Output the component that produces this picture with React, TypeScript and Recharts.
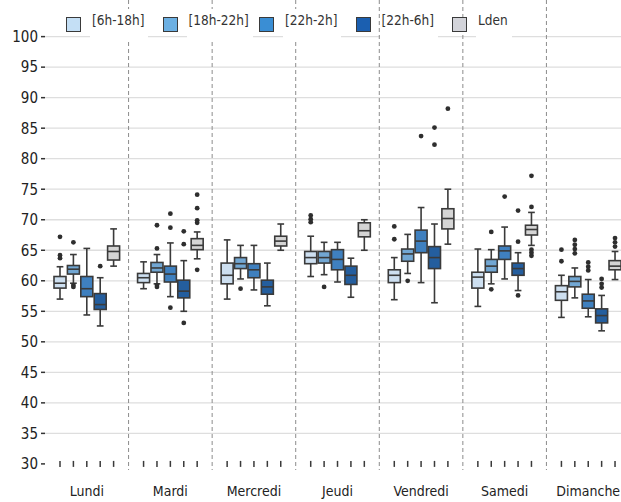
import React from 'react';
import { ComposedChart, Bar, XAxis, YAxis, CartesianGrid, Legend } from 'recharts';

const FONT = "'DejaVu Sans Condensed', 'DejaVu Sans', sans-serif";

const days = ['Lundi', 'Mardi', 'Mercredi', 'Jeudi', 'Vendredi', 'Samedi', 'Dimanche'];
const periods = ['[6h-18h]', '[18h-22h]', '[22h-2h]', '[22h-6h]', 'Lden'];
const yTicks = [30, 35, 40, 45, 50, 55, 60, 65, 70, 75, 80, 85, 90, 95, 100];

// [moustache basse, Q1, médiane, Q3, moustache haute] pour chaque jour
const stats6h18h = [
  [57, 58.8, 59.6, 60.7, 62.3],
  [58.7, 59.7, 60.5, 61.2, 63.1],
  [57, 59.5, 60.9, 62.9, 66.7],
  [60.7, 62.8, 63.8, 64.8, 67.3],
  [56.9, 59.7, 60.9, 61.8, 63.8],
  [55.8, 58.8, 60.6, 61.4, 65.2],
  [54, 56.8, 58.2, 59.2, 60.9],
];
const out6h18h = [[63.7, 64.2, 67.2], [], [], [69.6, 70.1, 70.7], [66.8, 68.9], [], [63.2, 65.1]];

const stats18h22h = [
  [59.6, 61.1, 61.9, 62.5, 64.3],
  [59.5, 61.4, 62.1, 63, 64.3],
  [60.3, 62, 62.8, 63.8, 65.8],
  [61, 62.9, 63.8, 64.8, 66.3],
  [61.2, 63.2, 64.4, 65.2, 67.6],
  [59.5, 61.4, 62.4, 63.5, 65.1],
  [57.2, 59, 59.9, 60.7, 62.1],
];
const out18h22h = [[59, 59.3, 66.3], [59, 59.3, 65.3, 69.1], [58.7], [59], [60], [58.6, 68], [64.5, 65.2, 65.9, 66.7]];

const stats22h2h = [
  [54.4, 57.4, 58.7, 60.7, 65.3],
  [57.4, 59.8, 61.1, 62.4, 66.2],
  [58.5, 60.5, 61.8, 62.8, 65.8],
  [59.8, 61.8, 63.5, 65.1, 66.3],
  [59.7, 64.6, 66.5, 68.3, 72],
  [60.3, 63.5, 64.9, 65.7, 68.8],
  [54.1, 55.5, 56.7, 57.8, 60.2],
];
const out22h2h = [[], [55.6, 68.7, 71], [], [], [83.7], [73.8], [61.7, 62.3, 63]];

const stats22h6h = [
  [52.6, 55.3, 56.1, 57.9, 60.5],
  [55, 57.2, 58.3, 60.1, 63.3],
  [55.9, 57.8, 59, 60.1, 62.9],
  [57.3, 59.4, 60.9, 62.4, 63.7],
  [56.4, 62, 63.8, 65.6, 69.3],
  [58.4, 60.9, 62, 62.9, 64.6],
  [51.8, 53.1, 54.3, 55.4, 57.6],
];
const out22h6h = [[62.4], [53.1, 66, 68.1], [], [], [82.3, 85.1], [57.6, 66.4, 71.5], [58.9, 59.5, 60.3]];

const statsLden = [
  [62.4, 63.4, 64.8, 65.7, 68.5],
  [63.6, 65.1, 65.8, 66.9, 68],
  [65, 65.7, 66.5, 67.3, 69.3],
  [65, 67.2, 68.2, 69.5, 70],
  [66, 68.5, 70.2, 71.8, 75],
  [65.8, 67.5, 68.4, 69.1, 71.2],
  [60.2, 61.8, 62.4, 63.3, 64.8],
];
const outLden = [[], [61.8, 69.5, 69.9, 71.9, 74.1], [], [], [88.2], [64.1, 64.6, 65.1, 72.1, 77.2], [65.6, 66.3, 67]];

const series = [
  { name: periods[0], stats: stats6h18h, outliers: out6h18h, fill: '#cddff0', legend: '#c4dff5' },
  { name: periods[1], stats: stats18h22h, outliers: out18h22h, fill: '#72a7d3', legend: '#6cb0e3' },
  { name: periods[2], stats: stats22h2h, outliers: out22h2h, fill: '#3f80bf', legend: '#3a8ed4' },
  { name: periods[3], stats: stats22h6h, outliers: out22h6h, fill: '#245e9e', legend: '#1b5fb0' },
  { name: periods[4], stats: statsLden, outliers: outLden, fill: '#d5d5d5', legend: '#d3d4da' },
];

const data = days.map((day, d) => {
  const row: any = { day };
  series.forEach((s, i) => {
    row['s' + i] = [s.stats[d][0], s.stats[d][4]];
  });
  return row;
});

const EDGE = '#3a3a3a';

const makeBox = (si: number) => (props: any) => {
  const { x, y, width, height, payload } = props;
  const d = days.indexOf(payload.day);
  const [lo, q1, med, q3, hi] = series[si].stats[d];
  const py = (v: number) => y + ((hi - v) * height) / (hi - lo);
  const cx = x + width / 2;
  const cap = width * 0.28;
  return (
    <g>
      <line x1={cx} x2={cx} y1={py(hi)} y2={py(q3)} stroke={EDGE} strokeWidth={1.6} />
      <line x1={cx} x2={cx} y1={py(q1)} y2={py(lo)} stroke={EDGE} strokeWidth={1.6} />
      <line x1={cx - cap} x2={cx + cap} y1={py(hi)} y2={py(hi)} stroke={EDGE} strokeWidth={1.6} />
      <line x1={cx - cap} x2={cx + cap} y1={py(lo)} y2={py(lo)} stroke={EDGE} strokeWidth={1.6} />
      <rect x={x} y={py(q3)} width={width} height={py(q1) - py(q3)} fill={series[si].fill} stroke={EDGE} strokeWidth={1.6} />
      <line x1={x} x2={x + width} y1={py(med)} y2={py(med)} stroke={EDGE} strokeWidth={1.6} />
      {series[si].outliers[d].map((v, k) => (
        <circle key={k} cx={cx} cy={py(v)} r={2.4} fill="#2e2e2e" />
      ))}
      <line x1={cx} x2={cx} y1={py(30) - 3} y2={py(30) + 3} stroke={EDGE} strokeWidth={1.5} />
    </g>
  );
};

const LegendContent = () => (
  <div style={{ position: 'relative', height: 28, fontFamily: FONT, fontSize: 13.5, color: '#333' }}>
    {series.map((s, i) => (
      <div
        key={s.name}
        style={{ position: 'absolute', left: 66 + i * 96.5, top: 0, display: 'flex', alignItems: 'center' }}
      >
        <span
          style={{
            display: 'inline-block',
            width: 13,
            height: 13,
            background: s.legend,
            border: '1.5px solid #3a3a3a',
            marginRight: 9,
          }}
        />
        <span style={{ background: '#fff', padding: '4px 4px 12px 2px', lineHeight: '15px' }}>{s.name}</span>
      </div>
    ))}
  </div>
);

export default function App() {
  return (
    <div style={{ position: 'absolute', left: 0, top: 0, width: 621, height: 502, overflow: 'hidden', background: '#fff' }}>
      <ComposedChart
        width={630}
        height={502}
        data={data}
        margin={{ top: 0, right: 0, bottom: 0, left: 0 }}
        barSize={12}
        barGap={1.4}
      >
        <CartesianGrid
          vertical={false}
          stroke="#dedede"
          strokeWidth={1.3}
          horizontalValues={yTicks.filter((t) => t !== 30)}
        />
        <CartesianGrid
          horizontal={false}
          stroke="#8c8c8c"
          strokeDasharray="4 3"
          strokeWidth={1}
          verticalCoordinatesGenerator={({ xAxis, offset }: any) => {
            const sc = xAxis && xAxis.scale;
            if (typeof sc === 'function') return days.slice(1).map((d) => sc(d));
            const bw = offset.width / days.length;
            return days.slice(1).map((_, i) => offset.left + bw * (i + 1));
          }}
        />
        <XAxis
          dataKey="day"
          axisLine={false}
          tickLine={false}
          height={32}
          tickSize={6}
          tickMargin={10}
          tick={{ fill: '#222', fontSize: 14, fontFamily: FONT }}
        />
        <YAxis
          type="number"
          domain={[29, 106]}
          ticks={yTicks}
          width={45}
          axisLine={false}
          tickSize={4}
          tickMargin={3}
          tickLine={{ stroke: '#333', strokeWidth: 1.5 }}
          tick={{ fill: '#222', fontSize: 15, fontFamily: FONT }}
        />
        <Legend verticalAlign="middle" align="center" wrapperStyle={{ top: 9, left: 0, width: 621 }} content={<LegendContent />} />
        {series.map((s, i) => (
          <Bar key={s.name} dataKey={'s' + i} name={s.name} fill={s.fill} shape={makeBox(i)} isAnimationActive={false} />
        ))}
      </ComposedChart>
    </div>
  );
}
